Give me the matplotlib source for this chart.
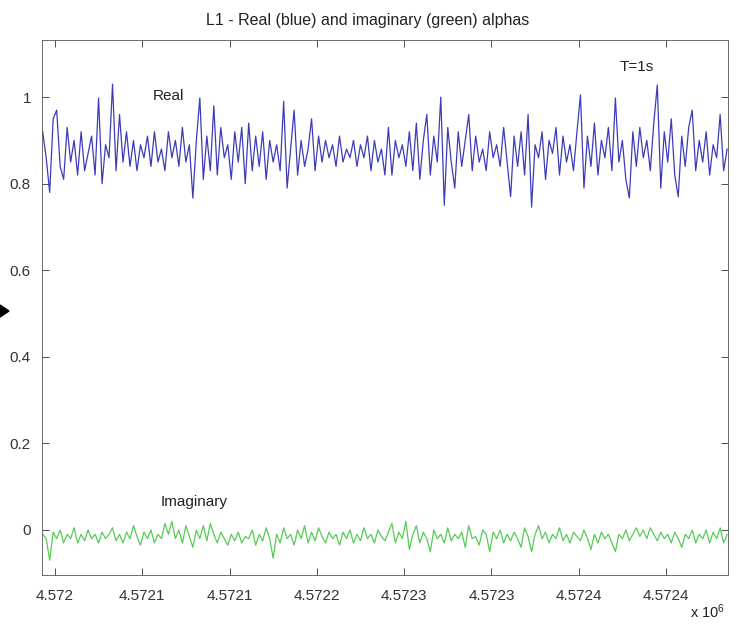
'''
L1 real / imaginary alphas, MATLAB style line plot
'''

import matplotlib as mpl
mpl.use('Agg')
import matplotlib.pyplot as plt
import numpy as np
from matplotlib.patches import Polygon

mpl.rcParams['mathtext.default'] = 'regular'
mpl.rcParams['font.family'] = ['Liberation Sans', 'DejaVu Sans']

# time axis (seconds, T=1s, one value kept every 2 s)
t_start = 4571993.0
t_step = 2.0

# real part of alpha
real_vals = [
    0.92, 0.86, 0.78, 0.95, 0.97, 0.84, 0.81, 0.93, 0.85, 0.90,
    0.82, 0.92, 0.83, 0.87, 0.91, 0.82, 0.998, 0.80, 0.89, 0.86,
    1.03, 0.83, 0.96, 0.85, 0.92, 0.84, 0.90, 0.83, 0.89, 0.86,
    0.91, 0.84, 0.92, 0.85, 0.88, 0.83, 0.92, 0.86, 0.90, 0.84,
    0.93, 0.85, 0.89, 0.767, 0.90, 0.998, 0.81, 0.91, 0.83, 0.98,
    0.82, 0.93, 0.86, 0.89, 0.81, 0.92, 0.85, 0.93, 0.80, 0.94,
    0.83, 0.91, 0.84, 0.92, 0.81, 0.90, 0.85, 0.89, 0.83, 0.99,
    0.79, 0.88, 0.97, 0.82, 0.90, 0.84, 0.88, 0.95, 0.83, 0.91,
    0.85, 0.90, 0.86, 0.89, 0.84, 0.91, 0.85, 0.88, 0.86, 0.90,
    0.84, 0.89, 0.86, 0.91, 0.83, 0.90, 0.85, 0.88, 0.82, 0.93,
    0.82, 0.90, 0.86, 0.89, 0.84, 0.92, 0.83, 0.94, 0.81, 0.90,
    0.96, 0.82, 0.91, 0.85, 1.00, 0.75, 0.93, 0.85, 0.79, 0.92,
    0.84, 0.90, 0.96, 0.83, 0.91, 0.85, 0.88, 0.83, 0.92, 0.86,
    0.89, 0.84, 0.93, 0.85, 0.77, 0.91, 0.84, 0.92, 0.82, 0.96,
    0.746, 0.89, 0.86, 0.92, 0.81, 0.90, 0.87, 0.93, 0.82, 0.91,
    0.85, 0.89, 0.83, 0.92, 1.005, 0.79, 0.91, 0.84, 0.94, 0.82,
    0.90, 0.86, 0.93, 0.83, 0.998, 0.85, 0.90, 0.81, 0.767, 0.92,
    0.84, 0.93, 0.86, 0.90, 0.83, 0.94, 1.028, 0.79, 0.92, 0.85,
    0.95, 0.82, 0.77, 0.91, 0.84, 0.93, 0.97, 0.83, 0.90, 0.85,
    0.92, 0.82, 0.89, 0.86, 0.96, 0.83, 0.88]

# imaginary part of alpha
imag_vals = [
    -0.01, -0.02, -0.07, -0.005, -0.02, 0.00, -0.03, -0.01, -0.02, 0.005,
    -0.03, -0.01, -0.025, 0.00, -0.02, -0.01, -0.03, -0.005, -0.02, -0.01,
    0.005, -0.025, -0.01, -0.03, -0.005, -0.02, 0.01, -0.015, -0.035, -0.005,
    -0.02, 0.00, -0.03, -0.01, -0.02, 0.015, -0.01, 0.02, -0.02, 0.00,
    -0.03, 0.01, -0.015, -0.04, 0.00, -0.02, 0.01, -0.025, 0.015, -0.01,
    -0.03, -0.005, -0.02, -0.035, -0.01, -0.025, -0.005, -0.03, -0.015, -0.02,
    0.00, -0.035, -0.01, -0.025, 0.005, -0.02, -0.065, -0.01, -0.03, 0.005,
    -0.02, -0.01, -0.035, 0.00, -0.02, 0.01, -0.03, -0.005, -0.025, 0.005,
    -0.015, -0.03, -0.005, -0.02, -0.01, -0.035, -0.005, -0.02, 0.00, -0.03,
    -0.01, -0.025, 0.005, -0.02, -0.01, -0.03, 0.00, -0.015, -0.025, -0.005,
    0.015, -0.03, -0.005, -0.02, 0.02, -0.045, -0.01, 0.01, -0.03, -0.005,
    -0.02, -0.05, 0.00, -0.02, -0.01, -0.03, 0.005, -0.025, -0.01, -0.02,
    -0.005, -0.04, 0.01, -0.02, -0.015, -0.035, 0.00, -0.01, -0.05, -0.005,
    -0.02, 0.00, -0.03, -0.01, -0.025, -0.005, -0.02, -0.04, 0.005, -0.015,
    -0.05, -0.01, 0.01, -0.02, -0.005, -0.03, -0.01, -0.02, 0.005, -0.025,
    -0.01, -0.03, -0.005, -0.015, -0.025, 0.00, -0.02, -0.045, -0.01, -0.03,
    -0.005, -0.02, -0.01, -0.03, -0.05, -0.01, -0.02, 0.00, -0.025, -0.01,
    0.005, -0.015, 0.00, -0.02, 0.005, -0.01, -0.025, -0.005, -0.02, -0.01,
    -0.03, -0.005, -0.02, -0.04, -0.01, -0.02, 0.00, -0.03, -0.01, -0.02,
    0.00, -0.03, -0.005, -0.02, 0.005, -0.03, -0.01]

# ticks as printed on the figure
xtick_pos = [4572000, 4572050, 4572100, 4572150, 4572200, 4572250, 4572300, 4572350]
xtick_labels = ['4.572', '4.5721', '4.5721', '4.5722', '4.5723', '4.5723', '4.5724', '4.5724']
ytick_pos = [0, 0.2, 0.4, 0.6, 0.8, 1]
ytick_labels = ['0', '0.2', '0.4', '0.6', '0.8', '1']

t_real = t_start + t_step*np.arange(len(real_vals))
t_imag = t_start + t_step*np.arange(len(imag_vals))

fig = plt.figure(figsize=(7.34, 6.29), dpi=100)
ax = fig.add_axes([42/734, 54/629, 686/734, 535/629])

ax.plot(t_real, real_vals, color='#3c3cba', linewidth=0.9)
ax.plot(t_imag, imag_vals, color='#55cc55', linewidth=0.9)

ax.set_xlim(4571992.6, 4572385.5)
ax.set_ylim(-0.104, 1.132)

ax.set_xticks(xtick_pos)
ax.set_xticklabels(xtick_labels)
ax.set_yticks(ytick_pos)
ax.set_yticklabels(ytick_labels)

ax.tick_params(direction='in', length=5, width=0.6, top=True, right=True,
               labelsize=11, colors='#333333', pad=8)
ax.tick_params(axis='x', pad=10)
for sp in ax.spines.values():
    sp.set_linewidth(0.6)
    sp.set_color('#555555')

# title sits a little left of the axes centre in the original
ax.set_title('L1 - Real (blue) and imaginary (green) alphas',
             fontsize=11.5, color='#222222', pad=11, x=0.475)

ax.text(0.184, 0.895, 'Real', transform=ax.transAxes, fontsize=11,
        ha='center', va='center', color='#222222')
ax.text(0.867, 0.95, 'T=1s', transform=ax.transAxes, fontsize=11,
        ha='center', va='center', color='#222222')
ax.text(0.222, 0.137, 'Imaginary', transform=ax.transAxes, fontsize=11,
        ha='center', va='center', color='#222222')

# exponent label, bottom right
fig.text(708/734, 1 - 612/629, r'x 10$^{6}$', fontsize=10.5, ha='center',
         va='center', color='#222222')

# little black pointer at the left edge
fig.add_artist(Polygon([[0, 1 - 305/629], [9/734, 1 - 311/629], [0, 1 - 317/629]],
                       closed=True, transform=fig.transFigure,
                       facecolor='black', edgecolor='black'))

fig.savefig('out.png', dpi=100)
